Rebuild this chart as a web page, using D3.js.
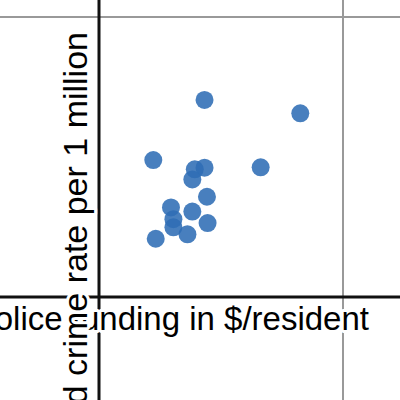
<!DOCTYPE html>
<html>
<head>
<meta charset="utf-8">
<script src="https://cdn.jsdelivr.net/npm/d3@7"></script>
<style>
  body { margin: 0; background: #fff; }
  svg { display: block; }
  .label { font-family: "Liberation Sans", Arial, sans-serif; font-size: 33px; fill: #000;
           stroke: #fff; stroke-width: 6px; paint-order: stroke; stroke-linejoin: round; }
  .label.y { font-size: 34px; }
</style>
</head>
<body>
<svg id="chart" width="400" height="400"></svg>
<script>
// police funding ($/resident) vs crime rate per 1 million
let funding = [89, 157, 173, 153, 177, 118, 153, 122, 122, 178, 145, 93, 173, 330, 265]
let crimeRate = [489, 456, 462, 420, 358, 320, 305, 278, 249, 264, 224, 208, 704, 656, 463]
let xDomain = [0, 400]
let yDomain = [0, 1000]
let xLabel = "Annual police funding in $/resident"
let yLabel = "Reported crime rate per 1 million"

let svg = d3.select("#chart")
let W = +svg.attr("width")
let H = +svg.attr("height")
let margin = { top: 17, right: 57, bottom: 103, left: 99 }

let points = funding.map((f, i) => ({ funding: f, crime: crimeRate[i] }))

let xScale = d3.scaleLinear()
    .domain(xDomain)
    .range([margin.left, W - margin.right])

let yScale = d3.scaleLinear()
    .domain(yDomain)
    .range([H - margin.bottom, margin.top])

// far grid lines (only the outer edges of the domain are visible)
svg.append("g")
  .selectAll("line")
  .data([xDomain[1]])
  .enter().append("line")
    .attr("x1", d => xScale(d)).attr("x2", d => xScale(d))
    .attr("y1", 0).attr("y2", H)
    .style("stroke", "#999").style("stroke-width", 2)

svg.append("g")
  .selectAll("line")
  .data([yDomain[1]])
  .enter().append("line")
    .attr("y1", d => yScale(d)).attr("y2", d => yScale(d))
    .attr("x1", 0).attr("x2", W)
    .style("stroke", "#999").style("stroke-width", 2)

// axes through the origin, running across the whole picture
svg.append("line")
    .attr("x1", 0).attr("x2", W)
    .attr("y1", yScale(0)).attr("y2", yScale(0))
    .style("stroke", "#111").style("stroke-width", 3)

svg.append("line")
    .attr("x1", xScale(0)).attr("x2", xScale(0))
    .attr("y1", 0).attr("y2", H)
    .style("stroke", "#111").style("stroke-width", 3)

svg.append("g")
  .selectAll("circle")
  .data(points)
  .enter().append("circle")
    .attr("cx", d => xScale(d.funding))
    .attr("cy", d => yScale(d.crime))
    .attr("r", 9)
    .style("fill", "#2f6db5")
    .style("fill-opacity", 0.88)

svg.append("text")
    .attr("class", "label")
    .attr("x", 369)
    .attr("y", 330)
    .style("text-anchor", "end")
    .text(xLabel)

svg.append("text")
    .attr("class", "label y")
    .attr("transform", "translate(87,32) rotate(-90)")
    .style("text-anchor", "end")
    .text(yLabel)
</script>
</body>
</html>
